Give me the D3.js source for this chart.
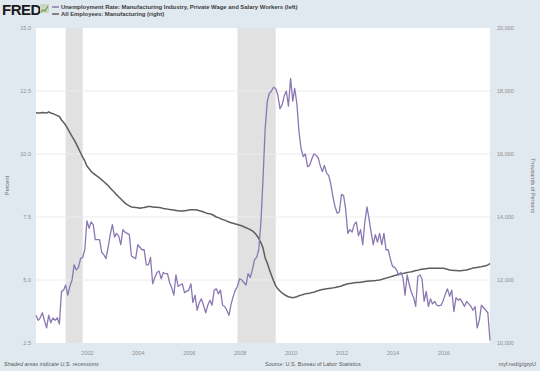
<!DOCTYPE html>
<html>
<head>
<meta charset="utf-8">
<script src="https://d3js.org/d3.v7.min.js"></script>
<style>
  body { margin: 0; background: #e1e9f0; }
  svg { display: block; font-family: "Liberation Sans", Arial, sans-serif; }
</style>
</head>
<body>
<svg id="chart" width="540" height="371"></svg>
<script>
// Manufacturing unemployment rate (percent), monthly, one row per year (2000 .. 2017, last year to Nov)
const unrate = [
  [3.6, 3.4, 3.5, 3.7, 3.4, 3.1, 3.6, 3.3, 3.5, 3.4, 3.5, 3.25],
  [4.55, 4.6, 4.8, 4.4, 4.75, 5.0, 5.6, 5.4, 5.5, 5.85, 5.9, 6.2],
  [7.35, 7.05, 7.3, 7.2, 6.6, 6.6, 6.6, 6.1, 6.0, 5.85, 6.3, 6.8],
  [7.2, 6.7, 6.85, 6.75, 6.4, 7.0, 6.9, 6.85, 6.8, 5.95, 5.9, 5.85],
  [6.4, 6.3, 6.2, 6.2, 5.6, 5.6, 5.9, 4.85, 5.1, 5.3, 5.35, 5.05],
  [5.3, 5.25, 5.25, 4.9, 4.7, 4.4, 5.2, 4.75, 4.8, 4.85, 4.5, 4.55],
  [4.6, 4.85, 4.1, 4.4, 3.8, 4.1, 4.25, 4.0, 3.7, 4.0, 4.2, 4.0],
  [4.6, 4.65, 4.45, 4.6, 4.0, 3.95, 3.8, 3.6, 4.05, 4.35, 4.6, 4.75],
  [5.05, 5.0, 4.9, 4.8, 5.25, 5.1, 5.4, 5.8, 5.9, 6.2, 7.3, 9.0],
  [11.0, 12.1, 12.4, 12.5, 12.65, 12.6, 12.35, 11.8, 11.95, 12.3, 12.5, 11.9],
  [13.0, 12.1, 12.6, 12.0, 10.9, 10.2, 9.9, 10.0, 9.5, 9.55, 9.8, 10.0],
  [9.95, 9.85, 9.55, 9.3, 9.55, 9.25, 9.15, 8.8, 8.3, 7.9, 7.65, 7.7],
  [8.4, 8.35, 7.8, 6.85, 7.0, 6.9, 7.2, 7.3, 6.75, 7.0, 6.4, 7.3],
  [7.9, 7.4, 6.9, 6.4, 6.8, 6.5, 6.85, 6.4, 6.85, 6.2, 6.2, 5.85],
  [5.55, 5.5, 5.4, 5.2, 5.3, 5.1, 4.4, 5.2, 4.8, 4.5, 4.3, 3.95],
  [5.15, 5.2, 5.05, 4.15, 4.55, 3.95, 4.25, 4.05, 4.15, 4.0, 3.97, 4.0],
  [4.2, 4.45, 4.65, 4.35, 4.6, 3.75, 4.3, 4.2, 4.25, 4.1, 3.95, 4.15],
  [4.05, 3.95, 3.8, 3.95, 3.1, 3.4, 4.0, 3.9, 3.8, 3.7, 2.6]
];

// All employees, manufacturing (thousands of persons), same months
const manemp = [
  [17310, 17305, 17300, 17320, 17310, 17300, 17340, 17300, 17280, 17250, 17220, 17190],
  [17080, 17000, 16920, 16800, 16680, 16560, 16450, 16320, 16180, 16040, 15900, 15780],
  [15620, 15530, 15450, 15390, 15340, 15290, 15240, 15180, 15120, 15060, 15000, 14920],
  [14850, 14780, 14710, 14640, 14580, 14510, 14440, 14390, 14350, 14320, 14310, 14300],
  [14290, 14280, 14290, 14300, 14320, 14330, 14330, 14320, 14310, 14310, 14300, 14290],
  [14270, 14260, 14250, 14240, 14230, 14220, 14210, 14200, 14190, 14190, 14200, 14210],
  [14220, 14230, 14230, 14230, 14220, 14200, 14180, 14160, 14130, 14110, 14100, 14080],
  [14040, 14000, 13980, 13950, 13920, 13900, 13870, 13840, 13820, 13800, 13780, 13760],
  [13740, 13720, 13690, 13660, 13630, 13600, 13560, 13500, 13420, 13320, 13180, 13020],
  [12700, 12530, 12340, 12150, 11980, 11820, 11720, 11650, 11590, 11540, 11500, 11470],
  [11450, 11440, 11450, 11470, 11500, 11520, 11540, 11560, 11570, 11580, 11600, 11610],
  [11640, 11660, 11680, 11700, 11710, 11720, 11730, 11740, 11750, 11760, 11780, 11790],
  [11810, 11840, 11860, 11880, 11890, 11900, 11910, 11920, 11920, 11930, 11940, 11950],
  [11960, 11970, 11970, 11980, 11980, 11990, 12000, 12020, 12040, 12060, 12080, 12100],
  [12120, 12140, 12160, 12180, 12200, 12210, 12220, 12240, 12250, 12260, 12280, 12300],
  [12310, 12330, 12340, 12350, 12360, 12370, 12370, 12370, 12370, 12370, 12370, 12370],
  [12370, 12360, 12340, 12320, 12310, 12300, 12300, 12290, 12290, 12300, 12310, 12320],
  [12340, 12360, 12380, 12390, 12400, 12410, 12420, 12440, 12450, 12480, 12520]
];

const firstYear = 2000;
const recessions = [["2001-03-01", "2001-11-01"], ["2007-12-01", "2009-06-01"]];
const leftTicks = [2.5, 5.0, 7.5, 10.0, 12.5, 15.0];
const rightTicks = [10000, 12000, 14000, 16000, 18000, 20000];
const yearTicks = [2002, 2004, 2006, 2008, 2010, 2012, 2014, 2016];

const seriesNames = [
  "Unemployment Rate: Manufacturing Industry, Private Wage and Salary Workers (left)",
  "All Employees: Manufacturing (right)"
];
const colors = ["#8a78b2", "#5e5e5e"];

// flatten rows to {date, value}
function toPoints(rows) {
  const out = [];
  rows.forEach((row, i) => row.forEach((v, m) => out.push({ date: new Date(firstYear + i, m, 1), value: v })));
  return out;
}
const ur = toPoints(unrate);
const emp = toPoints(manemp);

const svg = d3.select("#chart");
const plot = { left: 36, right: 490, top: 28, bottom: 343 };

const x = d3.scaleTime()
  .domain([ur[0].date, ur[ur.length - 1].date])
  .range([plot.left, plot.right]);
const yL = d3.scaleLinear().domain([2.5, 15]).range([plot.bottom, plot.top]);
const yR = d3.scaleLinear().domain([10000, 20000]).range([plot.bottom, plot.top]);

// plot background
svg.append("rect")
  .attr("x", plot.left).attr("y", plot.top)
  .attr("width", plot.right - plot.left).attr("height", plot.bottom - plot.top)
  .attr("fill", "#ffffff");

// recession bars
const parse = d3.timeParse("%Y-%m-%d");
svg.append("g").selectAll("rect")
  .data(recessions)
  .join("rect")
  .attr("x", d => x(parse(d[0])))
  .attr("y", plot.top)
  .attr("width", d => x(parse(d[1])) - x(parse(d[0])))
  .attr("height", plot.bottom - plot.top)
  .attr("fill", "#e1e1e1");

// gridlines
svg.append("g").selectAll("line")
  .data(leftTicks.slice(1, -1))
  .join("line")
  .attr("x1", plot.left).attr("x2", plot.right)
  .attr("y1", d => yL(d)).attr("y2", d => yL(d))
  .attr("stroke", "#ececec").attr("stroke-width", 1);

// axes (labels only, FRED style)
const axisFont = g => g.selectAll("text")
  .attr("fill", "#8d8d8d").style("font-size", "5.5px");

const leftAxis = svg.append("g")
  .attr("transform", `translate(${plot.left - 5},0)`)
  .call(d3.axisLeft(yL).tickValues(leftTicks).tickFormat(d3.format(".1f")).tickSize(0).tickPadding(0));
leftAxis.select(".domain").remove();
leftAxis.call(axisFont);

const rightAxis = svg.append("g")
  .attr("transform", `translate(${plot.right + 7},0)`)
  .call(d3.axisRight(yR).tickValues(rightTicks).tickFormat(d3.format(",")).tickSize(0).tickPadding(0));
rightAxis.select(".domain").remove();
rightAxis.call(axisFont);

const bottomAxis = svg.append("g")
  .attr("transform", `translate(0,${plot.bottom + 4})`)
  .call(d3.axisBottom(x).tickValues(yearTicks.map(yr => new Date(yr, 0, 1)))
    .tickFormat(d3.timeFormat("%Y")).tickSize(0).tickPadding(4));
bottomAxis.select(".domain").remove();
bottomAxis.call(axisFont);

// axis titles
svg.append("text")
  .attr("transform", `translate(9,${(plot.top + plot.bottom) / 2}) rotate(-90)`)
  .attr("text-anchor", "middle")
  .attr("fill", "#6a6a6a").style("font-size", "5.5px")
  .text("Percent");
svg.append("text")
  .attr("transform", `translate(531,${(plot.top + plot.bottom) / 2}) rotate(90)`)
  .attr("text-anchor", "middle")
  .attr("fill", "#6a6a6a").style("font-size", "5.5px")
  .text("Thousands of Persons");

// lines
svg.append("path")
  .datum(emp)
  .attr("fill", "none")
  .attr("stroke", colors[1])
  .attr("stroke-width", 1.5)
  .attr("stroke-linejoin", "round")
  .attr("d", d3.line().x(d => x(d.date)).y(d => yR(d.value)));

svg.append("path")
  .datum(ur)
  .attr("fill", "none")
  .attr("stroke", colors[0])
  .attr("stroke-width", 1.3)
  .attr("stroke-linejoin", "round")
  .attr("d", d3.line().x(d => x(d.date)).y(d => yL(d.value)));

// header: logo + legend
svg.append("text")
  .attr("x", 2).attr("y", 15)
  .attr("fill", "#1a1a1a")
  .style("font-size", "15px").style("font-weight", "bold").style("letter-spacing", "-0.5px")
  .text("FRED");
const icon = svg.append("g").attr("transform", "translate(40,4)");
icon.append("rect").attr("width", 9).attr("height", 9).attr("rx", 1).attr("fill", "#c9d6c0");
icon.append("polyline")
  .attr("points", "1,8 3,6 5,7 8,2")
  .attr("fill", "none").attr("stroke", "#6d9a55").attr("stroke-width", 1.2);

const legend = svg.append("g").selectAll("g")
  .data(seriesNames)
  .join("g")
  .attr("transform", (d, i) => `translate(52,${7 + i * 7})`);
legend.append("line")
  .attr("x1", 0).attr("x2", 7)
  .attr("stroke", (d, i) => colors[i]).attr("stroke-width", 1.5);
legend.append("text")
  .attr("x", 9).attr("y", 2)
  .attr("fill", "#3c3c3c")
  .style("font-size", "5.9px").style("font-weight", "bold")
  .text(d => d);

// footer
const foot = svg.append("g").attr("fill", "#5a5a5a").style("font-size", "5.5px");
foot.append("text").attr("x", 4).attr("y", 366)
  .style("font-style", "italic").text("Shaded areas indicate U.S. recessions");
foot.append("text").attr("x", 265).attr("y", 366)
  .text("Source: U.S. Bureau of Labor Statistics");
foot.append("text").attr("x", 536).attr("y", 366).attr("text-anchor", "end")
  .text("myf.red/g/gzpU");
</script>
</body>
</html>
